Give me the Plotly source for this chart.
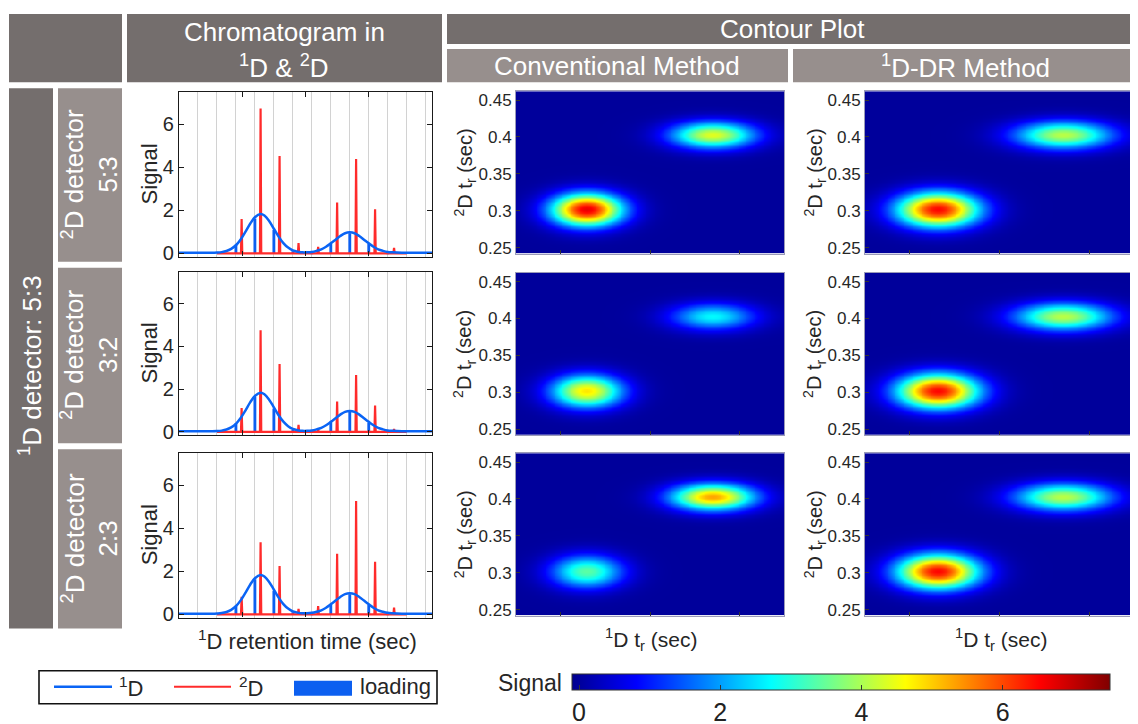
import numpy as np
import plotly.graph_objects as go

# Figure size; the photographed page shows the figure shifted by the 8 px body margin
# and slightly squeezed vertically, so positions below are given in window pixels.
W, H = 1138, 724
OFF = 8
SY = 0.985

# ---------------- data ----------------
# 1D chromatogram (1D detector 5:3), 1D retention time in seconds
t1_curve = [0, 3, 4.5, 5.25, 6, 6.75, 7.5, 8.25, 9, 9.75, 10.5, 11.25, 12, 12.9, 13.5, 14.25,
            15, 15.75, 16.5, 17.25, 18, 18.75, 19.5, 20.25, 21, 21.75, 22.5, 23.25, 24, 24.75,
            25.5, 26.25, 27, 27.75, 28.5, 29.25, 30, 30.75, 31.5, 32.25, 33, 33.75, 34.5, 36, 40]
signal_1d = [0.03, 0.03, 0.03, 0.03, 0.04, 0.06, 0.11, 0.21, 0.38, 0.65, 1.00, 1.38, 1.68, 1.83, 1.76, 1.51,
             1.15, 0.78, 0.48, 0.27, 0.14, 0.08, 0.05, 0.05, 0.07, 0.12, 0.19, 0.31, 0.47, 0.64,
             0.81, 0.94, 0.98, 0.94, 0.81, 0.64, 0.47, 0.31, 0.19, 0.12, 0.07, 0.05, 0.04, 0.03, 0.03]

# modulation boundaries (grid) and loading into 2D
grid_t = [3, 6, 9, 12, 15, 18, 21, 24, 27, 30, 33, 36, 39]
loading_t = [9, 12, 15, 18, 21, 24, 27, 30, 33]
loading = [0.40, 1.63, 1.10, 0.10, 0.06, 0.46, 0.94, 0.44, 0.06]

# 2D detector signal (spikes), one list per 2D detector ratio
spike_t = [9.9, 12.9, 15.9, 18.9, 22.0, 25.0, 28.0, 31.0, 34.0]
spikes_53 = [1.60, 6.74, 4.53, 0.48, 0.31, 2.37, 4.39, 2.05, 0.26]
spikes_32 = [1.12, 4.76, 3.18, 0.33, 0.11, 1.42, 2.66, 1.23, 0.14]
spikes_23 = [0.82, 3.36, 2.25, 0.25, 0.39, 2.82, 5.27, 2.45, 0.31]
spike_rows = [spikes_53, spikes_32, spikes_23]

row_labels = ["5:3", "3:2", "2:3"]

# contour peaks (1D tr, 2D tr)
conv_t1 = [12.9, 27.0]
conv_t2 = [0.302, 0.403]
conv_sx = [2.8, 3.3]
conv_sy = [0.0155, 0.0125]
conv_amp = [[6.7, 4.4], [4.8, 2.7], [3.4, 5.3]]

dr_t1 = [13.1, 27.1]
dr_t2 = [0.302, 0.403]
dr_sx = [3.2, 3.8]
dr_sy = [0.0165, 0.013]
dr_amp = [[6.5, 4.1], [6.5, 4.1], [6.5, 4.1]]

y_ticks_2d = [0.25, 0.3, 0.35, 0.4, 0.45]
y_ticktext_2d = ["0.25", "0.3", "0.35", "0.4", "0.45"]
cbar_ticks = [0, 2, 4, 6]

# ---------------- layout geometry (window pixels) ----------------
def clamp(v):
    return max(0.0, min(1.0, v))


def fx(p):
    return (p - OFF) / W


def fy(p):
    return 1 - ((p - OFF) / SY) / H


chrom_rows = [(92, 256), (271, 434), (452, 616)]
cont_rows = [(91, 253), (272, 434), (452, 614)]
chrom_x = (179, 432)
cont_cols = [(516, 784), (865, 1134)]

dark = "#746e6d"
light = "#978f8d"
txtc = "#262626"
FONT = "Arial"

jet = [[0.0, "#00008f"], [0.12, "#0000ff"], [0.37, "#00ffff"], [0.62, "#ffff00"],
       [0.87, "#ff0000"], [1.0, "#800000"]]

fig = go.Figure()
layout = {}


def ax_names(n):
    return ("x" if n == 1 else f"x{n}", "y" if n == 1 else f"y{n}",
            "xaxis" if n == 1 else f"xaxis{n}", "yaxis" if n == 1 else f"yaxis{n}")


# ---- chromatograms ----
for r in range(3):
    n = r + 1
    xa, ya, xk, yk = ax_names(n)
    rx, ry = [6.0], [0.0]
    for p, h in zip(spike_t, spike_rows[r]):
        rx += [p - 0.1, p, p + 0.1]
        ry += [0.0, h, 0.0]
    rx.append(36.0)
    ry.append(0.0)
    fig.add_trace(go.Scatter(x=rx, y=ry, mode="lines", line=dict(color="#ff2b2b", width=2.2),
                             xaxis=xa, yaxis=ya, showlegend=False, hoverinfo="skip"))
    fig.add_trace(go.Bar(x=loading_t, y=loading, width=0.45, marker=dict(color="#0c5ff0", line=dict(width=0)),
                         xaxis=xa, yaxis=ya, showlegend=False))
    fig.add_trace(go.Scatter(x=t1_curve, y=signal_1d, mode="lines",
                             line=dict(color="#0a64f5", width=2.5, shape="spline"),
                             xaxis=xa, yaxis=ya, showlegend=False))
    y0, y1 = chrom_rows[r]
    layout[xk] = dict(domain=[clamp(fx(chrom_x[0])), clamp(fx(chrom_x[1]))], range=[0, 40], anchor=ya,
                      showgrid=False, zeroline=False, showline=True, linecolor="#1a1a1a", linewidth=1.4,
                      mirror="ticks", ticks="inside", ticklen=5, tickcolor="#1a1a1a",
                      tickmode="array", tickvals=[10, 20, 30], showticklabels=False,
                      minor=dict(tickmode="array", tickvals=grid_t, showgrid=True,
                                 gridcolor="#d2d2d2", gridwidth=1, ticks=""))
    layout[yk] = dict(domain=[clamp(fy(y1)), clamp(fy(y0))], range=[-0.15, 7.5], anchor=xa,
                      showgrid=False, zeroline=False, showline=True, linecolor="#1a1a1a", linewidth=1.4,
                      mirror="ticks", ticks="inside", ticklen=5, tickcolor="#1a1a1a",
                      tickmode="array", tickvals=[0, 2, 4, 6],
                      tickfont=dict(family=FONT, size=20, color=txtc))

# ---- contour plots ----
gx = np.linspace(5, 35, 151)
gy = np.linspace(0.242, 0.462, 121)
GX, GY = np.meshgrid(gx, gy)


def blobs(t1, t2, sx, sy, amps):
    z = np.zeros_like(GX)
    for k in range(2):
        z += amps[k] * np.exp(-((GX - t1[k]) ** 2 / (2 * sx[k] ** 2) + (GY - t2[k]) ** 2 / (2 * sy[k] ** 2)))
    return z


for c in range(2):
    for r in range(3):
        n = 4 + c * 3 + r
        xa, ya, xk, yk = ax_names(n)
        if c == 0:
            z = blobs(conv_t1, conv_t2, conv_sx, conv_sy, conv_amp[r])
        else:
            z = blobs(dr_t1, dr_t2, dr_sx, dr_sy, dr_amp[r])
        fig.add_trace(go.Heatmap(x=gx, y=gy, z=z, coloraxis="coloraxis", zsmooth="best",
                                 xaxis=xa, yaxis=ya, showscale=False))
        y0, y1 = cont_rows[r]
        layout[xk] = dict(domain=[clamp(fx(cont_cols[c][0])), clamp(fx(cont_cols[c][1]))], range=[5, 35],
                          anchor=ya,
                          showgrid=False, zeroline=False, showline=True, linecolor="#9a9ab8", linewidth=1,
                          mirror=True, ticks="inside", ticklen=4, tickcolor="#333333",
                          tickmode="array", tickvals=[10, 20, 30], showticklabels=False)
        layout[yk] = dict(domain=[clamp(fy(y1)), clamp(fy(y0))], range=[0.242, 0.462], anchor=xa,
                          showgrid=False, zeroline=False, showline=True, linecolor="#9a9ab8", linewidth=1,
                          mirror=True, ticks="inside", ticklen=4, tickcolor="#333333",
                          tickmode="array", tickvals=y_ticks_2d, ticktext=y_ticktext_2d,
                          tickfont=dict(family=FONT, size=17, color=txtc))

# ---- shapes: header cells, legend ----
shapes = []


def cell(x0, y0, x1, y1, color):
    shapes.append(dict(type="rect", xref="paper", yref="paper", x0=clamp(fx(x0)), x1=clamp(fx(x1)),
                       y0=fy(y1), y1=fy(y0), fillcolor=color, line=dict(width=0), layer="below"))


cell(9, 14, 122, 82, dark)
cell(127, 14, 442, 82, dark)
cell(447, 14, 1138, 44, dark)
cell(447, 49, 788, 82, light)
cell(793, 49, 1138, 82, light)
cell(9, 88, 53, 627, dark)
cell(58, 88, 122, 261, light)
cell(58, 267, 122, 442, light)
cell(58, 448, 122, 627, light)

# legend box
shapes.append(dict(type="rect", xref="paper", yref="paper", x0=fx(39), x1=fx(437), y0=fy(702), y1=fy(669),
                   line=dict(color="#111111", width=1.6), fillcolor="rgba(0,0,0,0)"))
shapes.append(dict(type="line", xref="paper", yref="paper", x0=fx(54), x1=fx(112), y0=fy(685), y1=fy(685),
                   line=dict(color="#0a64f5", width=2.4)))
shapes.append(dict(type="line", xref="paper", yref="paper", x0=fx(174), x1=fx(231), y0=fy(685), y1=fy(685),
                   line=dict(color="#ff2b2b", width=1.8)))
shapes.append(dict(type="rect", xref="paper", yref="paper", x0=fx(294), x1=fx(352), y0=fy(694), y1=fy(679),
                   fillcolor="#0c5ff0", line=dict(width=0)))

# ---- annotations ----
ann = []


def text(x, y, s, size, color=txtc, angle=0, xanchor="center"):
    ann.append(dict(xref="paper", yref="paper", x=fx(x), y=fy(y), text=s, showarrow=False,
                    font=dict(family=FONT, size=size, color=color), textangle=angle,
                    xanchor=xanchor, yanchor="middle"))


W_ = "#ffffff"
text(284, 32, "Chromatogram in", 26, W_)
text(284, 66, "<sup>1</sup>D &amp; <sup>2</sup>D", 26, W_)
text(792, 29, "Contour Plot", 26, W_)
text(617, 66, "Conventional Method", 26, W_)
text(965, 66, "<sup>1</sup>D-DR Method", 26, W_)
text(31, 365, "<sup>1</sup>D detector: 5:3", 26, W_, angle=-90)
row_cy = [174, 354, 537]
for r in range(3):
    text(90, row_cy[r], "<sup>2</sup>D detector<br>" + row_labels[r], 26, W_, angle=-90)

for r in range(3):
    cy = (chrom_rows[r][0] + chrom_rows[r][1]) / 2
    text(149, cy, "Signal", 22, angle=-90)
    cy2 = (cont_rows[r][0] + cont_rows[r][1]) / 2
    text(465, cy2, "<sup>2</sup>D t<sub>r</sub> (sec)", 20, angle=-90)
    text(815, cy2, "<sup>2</sup>D t<sub>r</sub> (sec)", 20, angle=-90)

text(307, 638, "<sup>1</sup>D retention time (sec)", 22)
text(651, 638, "<sup>1</sup>D t<sub>r</sub> (sec)", 21)
text(1001, 638, "<sup>1</sup>D t<sub>r</sub> (sec)", 21)

text(117, 685, "<sup>1</sup>D", 22, xanchor="left")
text(237, 685, "<sup>2</sup>D", 22, xanchor="left")
text(358, 685, "loading", 22, xanchor="left")
text(530, 681, "Signal", 23)

layout.update(dict(
    width=W, height=H, margin=dict(l=0, r=0, t=0, b=0),
    paper_bgcolor="white", plot_bgcolor="white",
    shapes=shapes, annotations=ann, showlegend=False,
    font=dict(family=FONT, color=txtc),
    coloraxis=dict(colorscale=jet, cmin=-0.1, cmax=7.52,
                   colorbar=dict(orientation="h", x=fx(572), xanchor="left", y=fy(672), yanchor="top",
                                 len=538, lenmode="pixels", thickness=16 / SY, thicknessmode="pixels",
                                 outlinewidth=1, outlinecolor="#333333", xpad=0, ypad=0,
                                 tickmode="array", tickvals=cbar_ticks, ticks="inside", ticklen=5,
                                 tickcolor="#333333", tickfont=dict(family=FONT, size=25, color="#222222"))),
))
fig.update_layout(layout)
fig.write_html("out.html")
